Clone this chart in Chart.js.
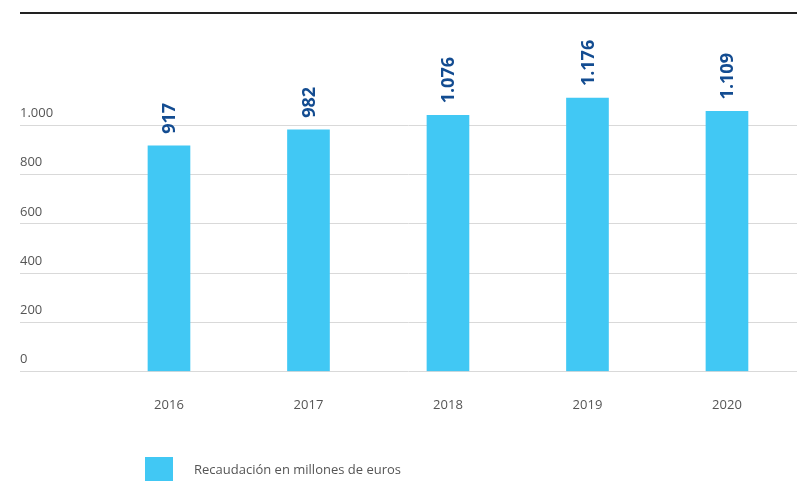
<!DOCTYPE html>
<html>
<head>
<meta charset="utf-8">
<script src="https://cdn.jsdelivr.net/npm/chart.js@4"></script>
<style>
  html, body { margin: 0; padding: 0; background: #fff; }
  body { width: 797px; height: 481px; position: relative; overflow: hidden; font-family: "Open Sans", sans-serif; }
  #topline { position: absolute; left: 20px; right: 0; top: 12px; height: 2px; background: #222; }
  #wrap { position: absolute; left: 0; top: 0; width: 797px; height: 481px; }
  #legend { position: absolute; left: 145px; top: 457px; display: flex; align-items: center; }
  #legend .box { width: 28px; height: 24px; background: #41c8f4; }
  #legend .txt { margin-left: 21px; font-size: 13px; color: #555; }
</style>
</head>
<body>
<div id="topline"></div>
<div id="wrap"><canvas id="c" width="797" height="481"></canvas></div>
<div id="legend"><span class="box"></span><span class="txt" id="legendText"></span></div>
<script>
const years = [2016, 2017, 2018, 2019, 2020];
const values = [917, 982, 1041, 1111, 1057];
const valueLabels = ['917', '982', '1.076', '1.176', '1.109'];
const yTickValues = [0, 200, 400, 600, 800, 1000];
const yTickLabels = ['0', '200', '400', '600', '800', '1.000'];
const seriesName = 'Recaudación en millones de euros';

document.getElementById('legendText').textContent = seriesName;

const valueLabelPlugin = {
  id: 'valueLabels',
  afterDatasetsDraw(chart) {
    const ctx = chart.ctx;
    const meta = chart.getDatasetMeta(0);
    ctx.save();
    ctx.fillStyle = '#134c91';
    ctx.font = 'bold 18px "Open Sans", sans-serif';
    ctx.textAlign = 'left';
    ctx.textBaseline = 'middle';
    meta.data.forEach((bar, i) => {
      ctx.save();
      ctx.translate(bar.x, bar.y - 12);
      ctx.rotate(-Math.PI / 2);
      ctx.fillText(valueLabels[i], 0, 1);
      ctx.restore();
    });
    ctx.restore();
  }
};

new Chart(document.getElementById('c'), {
  type: 'bar',
  data: {
    datasets: [{
      label: seriesName,
      data: years.map((y, i) => ({ x: y, y: values[i] })),
      backgroundColor: '#41c8f4',
      borderWidth: 0,
      barThickness: 42
    }]
  },
  options: {
    responsive: false,
    animation: false,
    events: [],
    layout: { padding: { left: 20, right: 0, top: 27, bottom: 42 } },
    plugins: { legend: { display: false }, tooltip: { enabled: false } },
    scales: {
      x: {
        type: 'linear',
        offset: false,
        min: 2014.932,
        max: 2020.502,
        afterBuildTicks(axis) { axis.ticks = years.map(v => ({ value: v })); },
        grid: { display: false, drawTicks: false, offset: false },
        border: { display: false },
        ticks: {
          padding: 26,
          color: '#555',
          font: { family: '"Open Sans", sans-serif', size: 13 },
          callback: (v) => String(v),
          autoSkip: false,
          maxRotation: 0
        }
      },
      y: {
        min: 0,
        max: 1400,
        afterBuildTicks(axis) { axis.ticks = yTickValues.map(v => ({ value: v })); },
        grid: { color: '#d9d9d9', lineWidth: 1, drawTicks: false },
        border: { display: false },
        ticks: {
          mirror: true,
          padding: 0,
          labelOffset: -12,
          color: '#555',
          font: { family: '"Open Sans", sans-serif', size: 13 },
          callback: (v) => yTickLabels[yTickValues.indexOf(v)]
        }
      }
    }
  },
  plugins: [valueLabelPlugin]
});
</script>
</body>
</html>
